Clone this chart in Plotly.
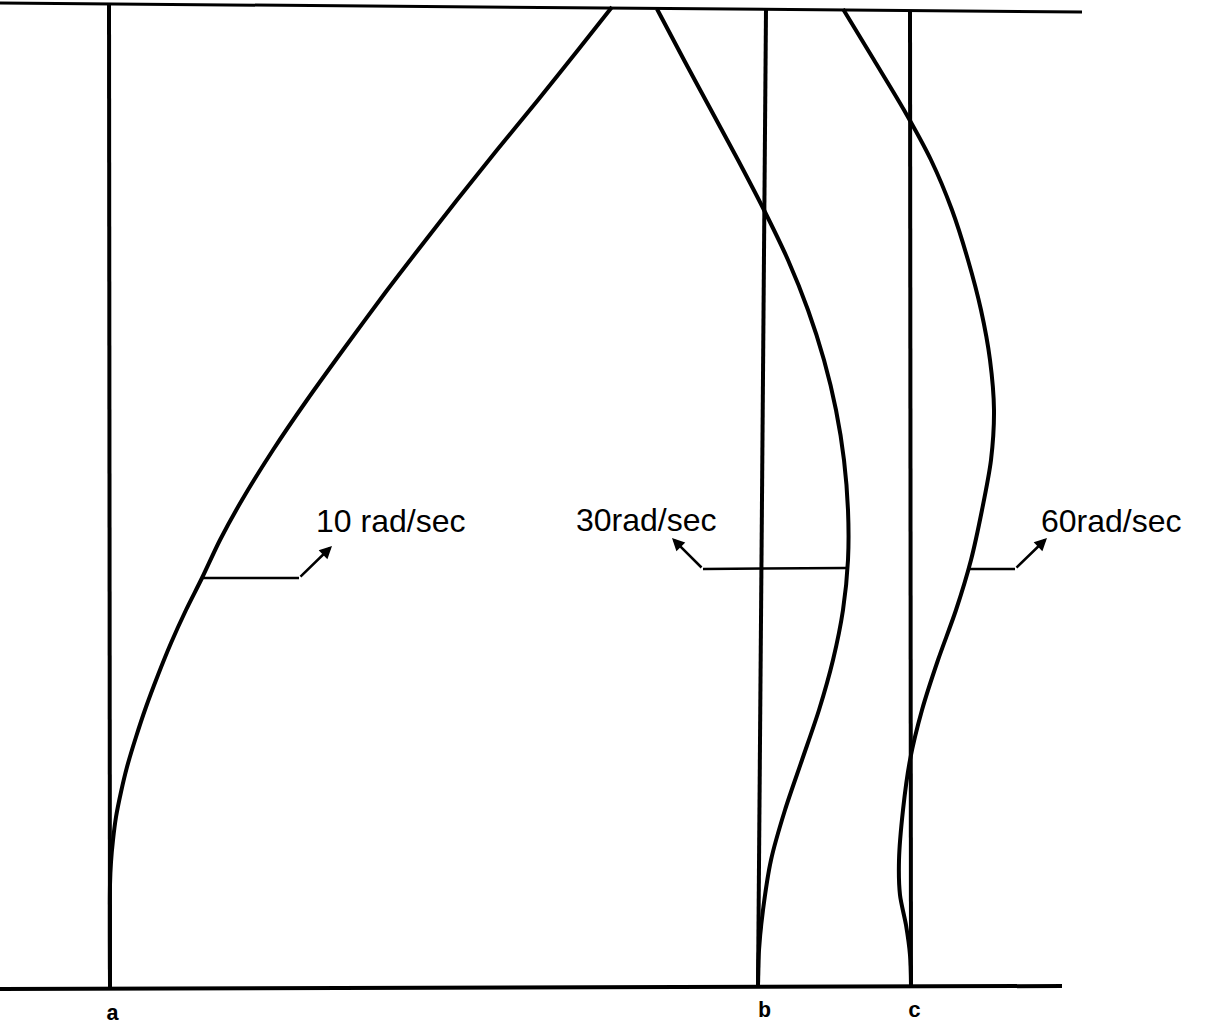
import plotly.graph_objects as go

# Frame: top beam, ground line and the three reference verticals (a, b, c)
top_x = [0, 1082]
top_y = [3, 12]
ground_x = [0, 1062]
ground_y = [989, 986]
vert_a = {"x": [109, 110], "y": [3, 989]}
vert_b = {"x": [766, 758], "y": [9, 987]}
vert_c = {"x": [910, 911], "y": [11, 986]}

# Deflected shapes (horizontal position vs. height)
w10_y = [7, 50, 100, 150, 200, 250, 293, 350, 400, 450, 500, 540, 578, 610, 643, 675, 707, 737, 767, 792, 817, 840, 862, 885, 987]
w10_x = [612, 578, 538, 497, 457, 418, 385, 343, 307, 273, 242, 220, 202, 186, 171, 158, 146, 136, 127, 121, 116, 113, 111, 110, 110]

w30_y = [9, 60, 110, 160, 210, 260, 310, 360, 410, 460, 510, 560, 610, 660, 710, 760, 810, 860, 910, 950, 986]
w30_x = [657, 684, 711, 738, 764, 788, 808, 824, 836, 844, 848, 848, 843, 833, 819, 802, 785, 771, 763, 759, 758]

w60_y = [9, 60, 110, 160, 210, 260, 310, 360, 410, 460, 510, 560, 610, 660, 710, 760, 810, 860, 895, 925, 955, 986]
w60_x = [843, 874, 904, 931, 952, 968, 981, 990, 994, 991, 982, 971, 956, 938, 922, 910, 903, 899, 900, 906, 910, 911]

# Leader lines: elbow on the curve, knee, arrow tip near the label
lead10 = {"x": [203, 299], "y": [578, 578], "tip": (332, 546)}
lead30 = {"x": [846, 703], "y": [568, 569], "tip": (672, 538)}
lead60 = {"x": [970, 1015], "y": [569, 569], "tip": (1047, 538)}

speeds = ["10 rad/sec", "30 rad/sec", "60 rad/sec"]
speed_text = ["10 rad/sec", "30rad/sec", "60rad/sec"]
speed_pos = [(390, 521), (646, 520), (1111, 521)]

base_labels = ["a", "b", "c"]
base_pos = [(112, 1014), (764, 1011), (914, 1011)]

INK = "#000000"
LW = 4

fig = go.Figure()


def add_line(xs, ys, width=LW, name=None):
    fig.add_trace(go.Scatter(
        x=xs, y=ys, mode="lines", name=name,
        line=dict(color=INK, width=width, shape="spline" if len(xs) > 3 else "linear", smoothing=0.8),
        hoverinfo="skip", showlegend=False,
    ))


add_line(top_x, top_y, width=3)
add_line(ground_x, ground_y, width=4)
for v in (vert_a, vert_b, vert_c):
    add_line(v["x"], v["y"], width=4)

for xs, ys, nm in ((w10_x, w10_y, speeds[0]), (w30_x, w30_y, speeds[1]), (w60_x, w60_y, speeds[2])):
    add_line(xs, ys, width=LW, name=nm)

for ld in (lead10, lead30, lead60):
    add_line(ld["x"], ld["y"], width=2.5)
    fig.add_annotation(
        x=ld["tip"][0], y=ld["tip"][1], ax=ld["x"][1], ay=ld["y"][1],
        xref="x", yref="y", axref="x", ayref="y",
        text="", showarrow=True, arrowhead=2, arrowsize=1.0,
        arrowwidth=2.5, arrowcolor=INK,
    )

for txt, (px, py) in zip(speed_text, speed_pos):
    fig.add_annotation(
        x=px, y=py, xref="x", yref="y", text=txt, showarrow=False,
        font=dict(family="Liberation Sans, Arial, sans-serif", size=32, color=INK),
    )

for txt, (px, py) in zip(base_labels, base_pos):
    fig.add_annotation(
        x=px, y=py, xref="x", yref="y", text="<b>" + txt + "</b>", showarrow=False,
        font=dict(family="Liberation Mono, Courier New, monospace", size=22, color=INK),
    )

fig.update_layout(
    width=1209, height=1030,
    margin=dict(l=0, r=0, t=0, b=0),
    paper_bgcolor="white", plot_bgcolor="white",
    xaxis=dict(range=[0, 1209], visible=False, fixedrange=True),
    yaxis=dict(range=[1030, 0], visible=False, fixedrange=True),
)

fig.write_html("out.html")
